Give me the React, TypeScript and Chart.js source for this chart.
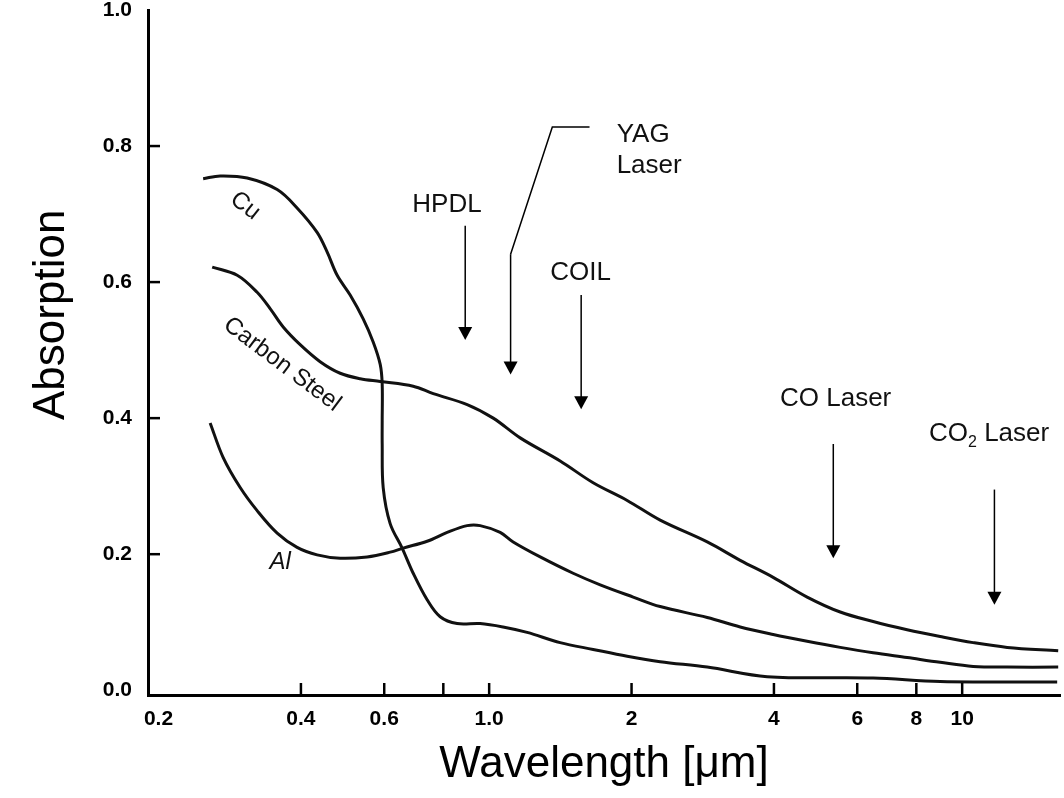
import React, { useEffect, useRef } from "react";
import { Chart, registerables } from "chart.js";

Chart.register(...registerables);

// ---- axis ticks ----
const xTickValues = [0.2, 0.4, 0.6, 0.8, 1, 2, 4, 6, 8, 10];
const xTickLabels = ["0.2", "0.4", "0.6", "", "1.0", "2", "4", "6", "8", "10"];
const yTickValues = [0, 0.2, 0.4, 0.6, 0.8, 1.0];
const yTickLabels = ["0.0", "0.2", "0.4", "0.6", "0.8", "1.0"];

// ---- series: Cu ----
const cuWavelength = [0.2485, 0.27, 0.3079, 0.3563, 0.3926, 0.4328, 0.4546, 0.4772, 0.5083, 0.5416, 0.5686, 0.5884, 0.5941, 0.5941, 0.5941, 0.597, 0.6176, 0.6547, 0.6909, 0.7394, 0.7878, 0.8557, 0.957, 1.07, 1.203, 1.413, 1.659, 1.958, 2.299, 2.891, 3.871, 6.483, 8.985, 15.88];
const cuAbsorption = [0.752, 0.756, 0.753, 0.736, 0.709, 0.673, 0.644, 0.61, 0.581, 0.546, 0.512, 0.479, 0.45, 0.396, 0.362, 0.298, 0.245, 0.209, 0.172, 0.133, 0.108, 0.098, 0.098, 0.093, 0.085, 0.07, 0.06, 0.05, 0.042, 0.034, 0.02, 0.018, 0.013, 0.012];

// ---- series: Carbon Steel ----
const steelWavelength = [0.2597, 0.2933, 0.3232, 0.3443, 0.3669, 0.3985, 0.4392, 0.4842, 0.5338, 0.5884, 0.6909, 0.7617, 0.8985, 1.02, 1.163, 1.413, 1.659, 1.958, 2.299, 2.891, 3.394, 3.985, 4.702, 5.523, 6.483, 7.65, 8.985, 10.55, 12.45, 15.96];
const steelAbsorption = [0.622, 0.61, 0.585, 0.561, 0.534, 0.508, 0.483, 0.466, 0.458, 0.454, 0.447, 0.436, 0.42, 0.4, 0.371, 0.337, 0.305, 0.279, 0.25, 0.218, 0.191, 0.166, 0.137, 0.115, 0.101, 0.089, 0.079, 0.07, 0.063, 0.058];

// ---- series: Al ----
const alWavelength = [0.2571, 0.274, 0.2976, 0.3232, 0.3563, 0.3926, 0.4328, 0.4842, 0.5522, 0.6176, 0.658, 0.7394, 0.815, 0.8985, 0.957, 1.055, 1.124, 1.282, 1.505, 1.717, 2.016, 2.299, 2.891, 3.394, 3.985, 4.702, 5.523, 6.483, 7.65, 8.985, 10.55, 12.45, 15.96];
const alAbsorption = [0.393, 0.342, 0.298, 0.264, 0.231, 0.21, 0.199, 0.194, 0.196, 0.203, 0.209, 0.219, 0.232, 0.242, 0.242, 0.232, 0.218, 0.196, 0.172, 0.155, 0.137, 0.123, 0.107, 0.093, 0.082, 0.072, 0.063, 0.055, 0.048, 0.041, 0.035, 0.034, 0.034];

// ---- laser arrows (wavelength, absorption of arrow top and tip) ----
const laserNames = ["HPDL", "YAG", "COIL", "CO", "CO2"];
const laserWavelength = [0.89, 1.11, 1.565, 5.34, 11.7];
const laserArrowTop = [0.683, 0.641, 0.581, 0.362, 0.295];
const laserArrowTip = [0.515, 0.464, 0.413, 0.194, 0.1255];
// label anchors (left edge wavelength, absorption of text centre)
const laserLabelWavelength = [0.688, 1.86, 1.346, 4.12, 8.51];
const laserLabelAbsorption = [0.714, 0.816, 0.613, 0.428, 0.377];
// YAG leader line
const yagLeaderWavelength = [1.11, 1.36, 1.63];
const yagLeaderAbsorption = [0.641, 0.828, 0.828];

// ---- material labels ----
const materialNames = ["Cu", "Carbon Steel", "Al"];
const materialWavelength = [0.305, 0.365, 0.3614];
const materialAbsorption = [0.712, 0.479, 0.188];
const materialAngle = [38, 37, 0];

const Y_TITLE = "Absorption";
const FONT = "'Liberation Sans', Arial, Helvetica, sans-serif";

const annotations = {
  id: "annotations",
  afterDraw(chart: any) {
    const { ctx } = chart;
    const xs = chart.scales.x;
    const ys = chart.scales.y;
    const area = chart.chartArea;
    ctx.save();
    // inside tick marks
    ctx.strokeStyle = "#000";
    ctx.lineWidth = 2.5;
    xTickValues.forEach((v) => {
      if (v <= 0.2) return;
      const px = xs.getPixelForValue(v);
      ctx.beginPath();
      ctx.moveTo(px, area.bottom);
      ctx.lineTo(px, area.bottom - 12);
      ctx.stroke();
    });
    yTickValues.forEach((v) => {
      if (v <= 0 || v >= 1) return;
      const py = ys.getPixelForValue(v);
      ctx.beginPath();
      ctx.moveTo(area.left, py);
      ctx.lineTo(area.left + 12, py);
      ctx.stroke();
    });

    // arrows
    ctx.fillStyle = "#000";
    ctx.lineWidth = 1.5;
    laserNames.forEach((name, i) => {
      const px = xs.getPixelForValue(laserWavelength[i]);
      const top = ys.getPixelForValue(laserArrowTop[i]);
      const tip = ys.getPixelForValue(laserArrowTip[i]);
      ctx.beginPath();
      ctx.moveTo(px, top);
      ctx.lineTo(px, tip - 12);
      ctx.stroke();
      ctx.beginPath();
      ctx.moveTo(px - 7, tip - 13);
      ctx.lineTo(px + 7, tip - 13);
      ctx.lineTo(px, tip);
      ctx.closePath();
      ctx.fill();
    });
    // YAG leader
    ctx.beginPath();
    yagLeaderWavelength.forEach((w, i) => {
      const px = xs.getPixelForValue(w);
      const py = ys.getPixelForValue(yagLeaderAbsorption[i]);
      if (i === 0) ctx.moveTo(px, py);
      else ctx.lineTo(px, py);
    });
    ctx.stroke();

    // laser labels
    ctx.textBaseline = "middle";
    ctx.textAlign = "left";
    ctx.fillStyle = "#111";
    const big = `26px ${FONT}`;
    const small = `16px ${FONT}`;
    laserNames.forEach((name, i) => {
      const px = xs.getPixelForValue(laserLabelWavelength[i]);
      const py = ys.getPixelForValue(laserLabelAbsorption[i]);
      ctx.font = big;
      if (name === "YAG") {
        ctx.fillText("YAG", px, py);
        ctx.fillText("Laser", px, py + 31);
      } else if (name === "CO") {
        ctx.fillText("CO Laser", px, py);
      } else if (name === "CO2") {
        ctx.fillText("CO", px, py);
        const w1 = ctx.measureText("CO").width;
        ctx.font = small;
        ctx.fillText("2", px + w1, py + 9);
        const w2 = ctx.measureText("2").width;
        ctx.font = big;
        ctx.fillText(" Laser", px + w1 + w2, py);
      } else {
        ctx.fillText(name, px, py);
      }
    });

    // material labels
    ctx.textAlign = "center";
    materialNames.forEach((name, i) => {
      const px = xs.getPixelForValue(materialWavelength[i]);
      const py = ys.getPixelForValue(materialAbsorption[i]);
      ctx.save();
      ctx.translate(px, py);
      ctx.rotate((materialAngle[i] * Math.PI) / 180);
      ctx.font = name === "Al" ? `italic 24px ${FONT}` : `24px ${FONT}`;
      ctx.fillText(name, 0, 0);
      ctx.restore();
    });

    // y-axis title (placed like the original, above the axis centre)
    ctx.save();
    ctx.translate(52, area.top + (area.bottom - area.top) * 0.445);
    ctx.rotate(-Math.PI / 2);
    ctx.font = `44px ${FONT}`;
    ctx.fillStyle = "#000";
    ctx.textAlign = "center";
    ctx.textBaseline = "middle";
    ctx.fillText(Y_TITLE, 0, 0);
    ctx.restore();

    ctx.restore();
  },
};

export default function App() {
  const ref = useRef<HTMLCanvasElement | null>(null);
  useEffect(() => {
    document.body.style.margin = "0";
    const canvas = ref.current;
    if (!canvas) return;
    const line = (xs: number[], ys: number[], label: string) => ({
      label,
      data: xs.map((x, i) => ({ x, y: ys[i] })),
      borderColor: "#111",
      borderWidth: 3,
      pointRadius: 0,
      tension: 0.35,
      fill: false,
    });
    const tickFont = { family: FONT, size: 21, weight: "bold" as const };
    const chart = new Chart(canvas, {
      type: "line",
      data: {
        datasets: [
          line(cuWavelength, cuAbsorption, "Cu"),
          line(steelWavelength, steelAbsorption, "Carbon Steel"),
          line(alWavelength, alAbsorption, "Al"),
        ],
      },
      options: {
        animation: false,
        responsive: false,
        maintainAspectRatio: false,
        layout: { padding: { top: 10, right: 4, left: 0, bottom: 0 } },
        plugins: { legend: { display: false }, tooltip: { enabled: false } },
        scales: {
          x: {
            type: "logarithmic",
            min: 0.19,
            max: 16.1,
            afterBuildTicks: (s: any) => {
              s.ticks = xTickValues.map((v) => ({ value: v }));
            },
            afterFit: (s: any) => {
              s.height = 103;
            },
            ticks: {
              autoSkip: false,
              maxRotation: 0,
              padding: 12,
              color: "#000",
              font: tickFont,
              callback: (_v: any, i: number) => xTickLabels[i],
            },
            grid: { display: false, drawTicks: false },
            border: { display: true, width: 3, color: "#000" },
            title: {
              display: true,
              text: "Wavelength [μm]",
              color: "#000",
              font: { family: FONT, size: 44 },
              padding: { top: 0, bottom: 7 },
            },
          },
          y: {
            type: "linear",
            min: -0.007,
            max: 1.0,
            afterBuildTicks: (s: any) => {
              s.ticks = yTickValues.map((v) => ({ value: v }));
            },
            afterFit: (s: any) => {
              s.width = 148;
              s.paddingTop = 0;
              s.paddingBottom = 0;
            },
            ticks: {
              padding: 16,
              color: "#000",
              font: tickFont,
              callback: (_v: any, i: number) => yTickLabels[i],
            },
            grid: { display: false, drawTicks: false },
            border: { display: true, width: 3, color: "#000" },
          },
        },
      },
      plugins: [annotations],
    });
    return () => chart.destroy();
  }, []);
  return (
    <div style={{ width: 1064, height: 798, background: "#fff" }}>
      <canvas ref={ref} width={1064} height={798} style={{ display: "block" }} />
    </div>
  );
}
